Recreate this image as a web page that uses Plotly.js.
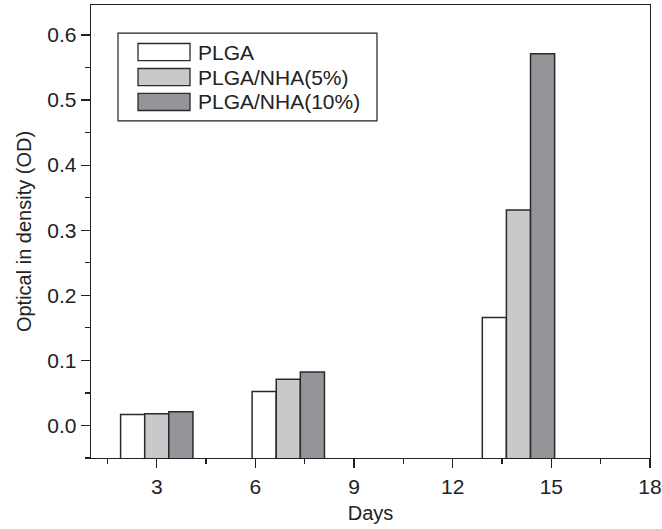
<!DOCTYPE html>
<html>
<head>
<meta charset="utf-8">
<script src="https://cdn.plot.ly/plotly-3.0.1.min.js"></script>
<style>html,body{margin:0;padding:0;background:#fff;}#chart{width:662px;height:529px;}</style>
</head>
<body>
<div id="chart"></div>
<script>
// ---- data ----
const days = [3, 7, 14];
const seriesNames = ["PLGA", "PLGA/NHA(5%)", "PLGA/NHA(10%)"];
const plga = [0.017, 0.052, 0.166];
const plgaNha5 = [0.018, 0.071, 0.331];
const plgaNha10 = [0.021, 0.082, 0.571];
const seriesColors = ["#ffffff", "#c8c9cb", "#939598"];
const xTickVals = [3, 6, 9, 12, 15, 18];
const yTickVals = [0.0, 0.1, 0.2, 0.3, 0.4, 0.5, 0.6];

const seriesValues = [plga, plgaNha5, plgaNha10];
const barBase = -0.06;
const font = "Liberation Sans, Arial, Helvetica, sans-serif";
const ink = "#222222";

const traces = seriesValues.map((vals, i) => ({
  type: "bar",
  name: seriesNames[i],
  x: days,
  y: vals.map(v => v - barBase),
  base: barBase,
  marker: {color: seriesColors[i], line: {color: "#2a2a2a", width: 1.5}},
  showlegend: false,
  hoverinfo: "skip"
}));

// custom legend (paper coordinates)
const shapes = [{
  type: "rect", xref: "paper", yref: "paper",
  x0: 0.0483, x1: 0.5116, y0: 0.744, y1: 0.938,
  line: {color: ink, width: 1.2}, fillcolor: "rgba(255,255,255,0)"
}];
const annotations = [];
const rowY = [0.8962, 0.8410, 0.7859];
seriesNames.forEach((name, i) => {
  shapes.push({
    type: "rect", xref: "paper", yref: "paper",
    x0: 0.0841, x1: 0.1771, y0: rowY[i] - 0.0188, y1: rowY[i] + 0.0188,
    line: {color: "#2a2a2a", width: 1.3}, fillcolor: seriesColors[i]
  });
  annotations.push({
    xref: "paper", yref: "paper", x: 0.1878, y: rowY[i],
    xanchor: "left", yanchor: "middle", showarrow: false,
    text: name, font: {family: font, size: 21, color: ink}
  });
});

const layout = {
  width: 662, height: 529,
  margin: {l: 91, r: 12, t: 5, b: 71},
  paper_bgcolor: "#ffffff", plot_bgcolor: "#ffffff",
  barmode: "group", bargap: 0.45, bargroupgap: 0,
  font: {family: font, size: 20, color: ink},
  xaxis: {
    range: [1, 18], tickvals: xTickVals, ticktext: xTickVals.map(String),
    ticks: "outside", ticklen: 9, tickwidth: 1.2, tickcolor: ink,
    minor: {dtick: 1.5, tick0: 0, ticks: "outside", ticklen: 5, tickwidth: 1.2, tickcolor: ink, showgrid: false},
    showline: true, linecolor: ink, linewidth: 1.3, mirror: true,
    showgrid: false, zeroline: false, layer: "below traces",
    tickfont: {family: font, size: 21, color: ink},
    title: {text: "Days", font: {family: font, size: 20, color: ink}, standoff: 9},
    automargin: false
  },
  yaxis: {
    range: [-0.05, 0.646], tickvals: yTickVals, ticktext: yTickVals.map(v => v.toFixed(1)),
    ticks: "outside", ticklen: 9, tickwidth: 1.2, tickcolor: ink,
    minor: {dtick: 0.05, tick0: 0, ticks: "outside", ticklen: 5, tickwidth: 1.2, tickcolor: ink, showgrid: false},
    showline: true, linecolor: ink, linewidth: 1.3, mirror: true,
    showgrid: false, zeroline: false, layer: "below traces",
    tickfont: {family: font, size: 21, color: ink},
    title: {text: "Optical in density (OD)", font: {family: font, size: 20, color: ink}, standoff: 10},
    automargin: false
  },
  shapes: shapes,
  annotations: annotations
};

Plotly.newPlot("chart", traces, layout, {displayModeBar: false, staticPlot: true});
</script>
</body>
</html>
